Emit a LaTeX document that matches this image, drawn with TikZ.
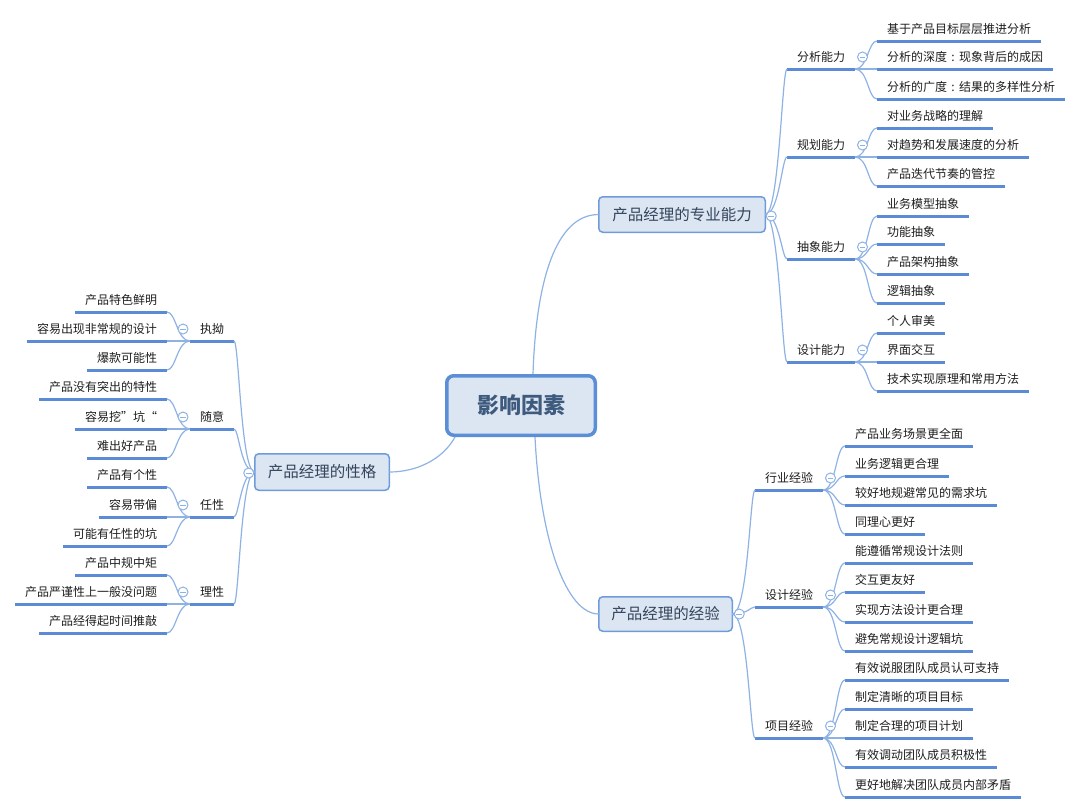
\documentclass[tikz,border=0pt]{standalone}
\usepackage{fontspec}
\setmainfont{Noto Sans CJK SC}
\definecolor{ucol}{HTML}{5B8BD5}
\definecolor{lcol}{HTML}{8DB2E3}
\definecolor{nodeb}{HTML}{6E9CDA}
\definecolor{nodef}{HTML}{DCE6F3}
\definecolor{cbord}{HTML}{5A8ED5}
\definecolor{txt}{HTML}{1E1E1E}
\definecolor{ttxt}{HTML}{34445A}
\definecolor{ctxt}{HTML}{3E5A7C}
\begin{document}
\begin{tikzpicture}[x=1pt,y=-1pt,
  ul/.style={draw=ucol,line width=3pt},
  uline/.style={append after command={(\tikzlastnode.south west) edge[ul] (\tikzlastnode.south east)}},
  lab/.style={inner xsep=10pt,inner ysep=5pt,outer sep=0pt,text height=9pt,text depth=2.5pt,font=\fontsize{12}{14}\selectfont,text=txt,uline},
  labR/.style={lab,anchor=south west},
  labL/.style={lab,anchor=south east},
  topic/.style={draw=nodeb,fill=nodef,rounded corners=4pt,line width=1.5pt,font=\fontsize{15.5}{18}\selectfont,text=ttxt,inner sep=0pt,outer sep=0pt},
  conn/.style={draw=lcol,line width=1.2pt},
  tog/.style={circle,draw=lcol,fill=white,line width=1pt,minimum size=10pt,inner sep=0pt,
    path picture={\draw[lcol,line width=1pt] ([xshift=-2.8pt]path picture bounding box.center) -- ([xshift=2.8pt]path picture bounding box.center);}},
]
\useasboundingbox (0,0) rectangle (1080,812);

% main nodes
\node[draw=cbord,fill=nodef,line width=3.5pt,rounded corners=7pt,minimum width=148.5pt,minimum height=59.5pt,inner sep=0pt,
  font=\fontsize{22}{26}\selectfont\bfseries,text=ctxt] (c) at (521,405.5) {影响因素};
\node[topic,minimum width=166.5pt,minimum height=35.5pt] (p) at (682,214.5) {产品经理的专业能力};
\node[topic,minimum width=133.5pt,minimum height=34.5pt] (e) at (665.5,614) {产品经理的经验};
\node[topic,minimum width=134.5pt,minimum height=36.5pt] (h) at (322,472) {产品经理的性格};

% right top
\node[labR] (s1) at (787,69) {分析能力};
\node[labR] (s1a) at (877,41) {基于产品目标层层推进分析};
\node[labR] (s1b) at (877,69) {分析的深度\makebox[1em]{:}现象背后的成因};
\node[labR] (s1c) at (877,99) {分析的广度\makebox[1em]{:}结果的多样性分析};
\node[labR] (s2) at (787,157) {规划能力};
\node[labR] (s2a) at (877,128) {对业务战略的理解};
\node[labR] (s2b) at (877,157) {对趋势和发展速度的分析};
\node[labR] (s2c) at (877,186) {产品迭代节奏的管控};
\node[labR] (s3) at (787,259) {抽象能力};
\node[labR] (s3a) at (877,216) {业务模型抽象};
\node[labR] (s3b) at (877,244) {功能抽象};
\node[labR] (s3c) at (877,274) {产品架构抽象};
\node[labR] (s3d) at (877,303) {逻辑抽象};
\node[labR] (s4) at (787,362) {设计能力};
\node[labR] (s4a) at (877,333) {个人审美};
\node[labR] (s4b) at (877,362) {界面交互};
\node[labR] (s4c) at (877,391) {技术实现原理和常用方法};

% right bottom
\node[labR] (e1) at (755,490) {行业经验};
\node[labR] (e1a) at (845,446) {产品业务场景更全面};
\node[labR] (e1b) at (845,476) {业务逻辑更合理};
\node[labR] (e1c) at (845,505) {较好地规避常见的需求坑};
\node[labR] (e1d) at (845,534) {同理心更好};
\node[labR] (e2) at (755,607) {设计经验};
\node[labR] (e2a) at (845,563) {能遵循常规设计法则};
\node[labR] (e2b) at (845,592) {交互更友好};
\node[labR] (e2c) at (845,622) {实现方法设计更合理};
\node[labR] (e2d) at (845,651) {避免常规设计逻辑坑};
\node[labR] (e3) at (755,738) {项目经验};
\node[labR] (e3a) at (845,680) {有效说服团队成员认可支持};
\node[labR] (e3b) at (845,709) {制定清晰的项目目标};
\node[labR] (e3c) at (845,738) {制定合理的项目计划};
\node[labR] (e3d) at (845,767) {有效调动团队成员积极性};
\node[labR] (e3e) at (845,797) {更好地解决团队成员内部矛盾};

% left
\node[labL] (h1) at (234,341) {执拗};
\node[labL] (h1a) at (167,312) {产品特色鲜明};
\node[labL] (h1b) at (167,341) {容易出现非常规的设计};
\node[labL] (h1c) at (167,370) {爆款可能性};
\node[labL] (h2) at (234,429) {随意};
\node[labL] (h2a) at (167,399) {产品没有突出的特性};
\node[labL] (h2b) at (167,429) {容易挖\makebox[1em][l]{”}坑\makebox[1em][r]{“}};
\node[labL] (h2c) at (167,458) {难出好产品};
\node[labL] (h3) at (234,517) {任性};
\node[labL] (h3a) at (167,487) {产品有个性};
\node[labL] (h3b) at (167,517) {容易带偏};
\node[labL] (h3c) at (167,546) {可能有任性的坑};
\node[labL] (h4) at (234,604) {理性};
\node[labL] (h4a) at (167,575) {产品中规中矩};
\node[labL] (h4b) at (167,604) {产品严谨性上一般没问题};
\node[labL] (h4c) at (167,633) {产品经得起时间推敲};

% connectors from centre
\draw[conn] ([xshift=12pt]c.north) .. controls +(3,-93) and +(-43,0) .. (p.west);
\draw[conn] ([xshift=14pt]c.south) .. controls +(5,102) and +(-33,0) .. (e.west);
\draw[conn] ([xshift=-66pt]c.south) .. controls +(-12,22) and +(28,0) .. (h.east);

% main -> sub
\foreach \s in {s1,s2,s3,s4}
  \draw[conn] (p.east) .. controls +(14,0) and +(-5,0) .. (\s.south west);
\foreach \s in {e1,e2,e3}
  \draw[conn] (e.east) .. controls +(16,0) and +(-5,0) .. (\s.south west);
\foreach \s in {h1,h2,h3,h4}
  \draw[conn] (h.west) .. controls +(-14,0) and +(5,0) .. (\s.south east);

% sub -> leaf (right)
\foreach \a/\b in {s1/s1a,s1/s1b,s1/s1c,s2/s2a,s2/s2b,s2/s2c,s3/s3a,s3/s3b,s3/s3c,s3/s3d,s4/s4a,s4/s4b,s4/s4c,
                   e1/e1a,e1/e1b,e1/e1c,e1/e1d,e2/e2a,e2/e2b,e2/e2c,e2/e2d,e3/e3a,e3/e3b,e3/e3c,e3/e3d,e3/e3e}
  \draw[conn] (\a.south east) .. controls +(13,0) and +(-9,0) .. (\b.south west);
% sub -> leaf (left)
\foreach \a/\b in {h1/h1a,h1/h1b,h1/h1c,h2/h2a,h2/h2b,h2/h2c,h3/h3a,h3/h3b,h3/h3c,h4/h4a,h4/h4b,h4/h4c}
  \draw[conn] (\a.south west) .. controls +(-13,0) and +(9,0) .. (\b.south east);

% toggles
\node[tog] (tp) at ([xshift=6pt,yshift=-1.5pt]p.east) {};
\node[tog] (te) at ([xshift=7pt]e.east) {};
\node[tog] (th) at ([xshift=-6pt,yshift=-1pt]h.west) {};
\foreach \s in {s1,s2,s3,s4,e1,e2,e3}
  \node[tog] (t\s) at ([xshift=7.5pt,yshift=12pt]\s.south east) {};
\foreach \s in {h1,h2,h3,h4}
  \node[tog] (t\s) at ([xshift=-7pt,yshift=12pt]\s.south west) {};
\end{tikzpicture}
\end{document}
